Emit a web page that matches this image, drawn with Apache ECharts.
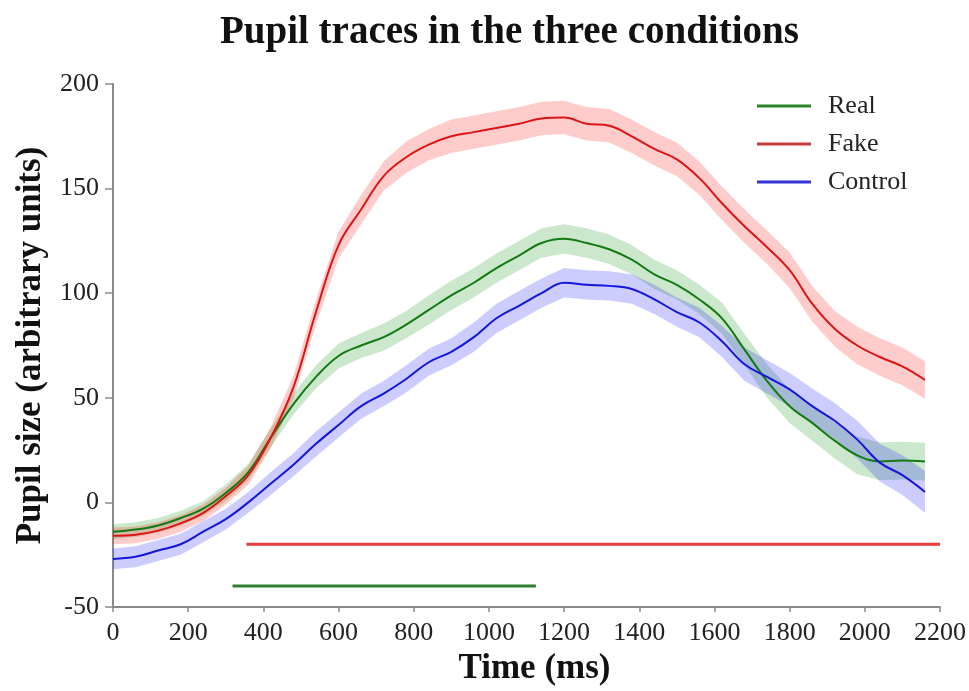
<!DOCTYPE html>
<html>
<head>
<meta charset="utf-8">
<script src="https://cdn.jsdelivr.net/npm/echarts@6/dist/echarts.min.js"></script>
<style>
html,body{margin:0;padding:0;background:#fff;}
#chart{width:969px;height:691px;}
</style>
</head>
<body>
<div id="chart"></div>
<script>
// ---- data ----
var times = [0,60,120,180,240,300,360,420,480,540,600,660,720,780,840,900,960,1020,1080,1140,1200,1260,1320,1380,1440,1500,1560,1620,1680,1740,1800,1860,1920,1980,2040,2100,2160];
var realMean = [-14,-13,-11,-7.5,-3,4.5,14.5,31,47,60,70,75,79,85,92,99,105,112,118,124,126,124,121,116,109,104,97,88,73,58,46,38,29.5,22.5,19.6,20,19.5];
var fakeMean = [-16,-15.5,-13.5,-10,-5,3,13,31,55,91,123,140,156,165,171,175,177,179,181,183.5,184,181,180,175,169,164,155,143,132,122,111,95,83,75,69.5,65,58.5];
var controlMean = [-27,-26,-23,-20,-14,-8,0,9,18,28,37,46,52,59,67,72,79,88,94,100,105,104,103.5,102,97,91,86,77,66,60,54,46,39,30,19,13,5];
var realSem = [3.5,3.5,3.5,3.5,3.5,4,4,4.5,5,5.5,6,6,6.5,6.5,7,7,7,7,7,7,7,7,7,7,7,7,7,7.5,7.5,8,8,8.5,8.5,9,9,9,9];
var fakeSem = [4,4,4,4,4,4,4.5,5,5.5,6,6.5,7,7,7.5,7.5,8,8,8,8,8,8,8,8,8,8,8,8,8,8,8,8.5,8.5,8.5,9,9,9,9];
var controlSem = [5,5,5,5,5,5,5,5.5,5.5,6,6,6,6,6.5,6.5,6.5,7,7,7,7,7,7,7,7,7,7,7,7.5,8,8,8,8.5,8.5,9,9,9.5,10];
// significance bars: [start ms, end ms, level]
var sigFake = [355, 2200, -20];
var sigReal = [318, 1125, -40];
var xTicks = {min: 0, max: 2200, step: 200};
var yTicks = {min: -50, max: 200, step: 50};

var serif = '"Liberation Serif","Times New Roman",Times,serif';

function pairs(arr){ return times.map(function(t,i){ return [t, arr[i]]; }); }

function band(name, m, s, fill){
  return {
    name: name, type:'custom', coordinateSystem:'cartesian2d', silent:true, z:1, clip:true,
    data: [[times[0], m[0]]],
    renderItem: function(params, api){
      var up = times.map(function(t,i){ return api.coord([t, m[i]+s[i]]); });
      var lo = times.map(function(t,i){ return api.coord([t, m[i]-s[i]]); }).reverse();
      return {type:'polygon', shape:{points: up.concat(lo)}, style:{fill: fill}};
    }
  };
}

var series = [];
series.push(band('realBand', realMean, realSem, 'rgba(0,140,0,0.2)'));
series.push(band('fakeBand', fakeMean, fakeSem, 'rgba(255,0,0,0.2)'));
series.push(band('controlBand', controlMean, controlSem, 'rgba(0,0,255,0.2)'));
series.push({name:'Real', type:'line', data:pairs(realMean), symbol:'none', smooth:0.4, lineStyle:{color:'#137a13', width:2}, itemStyle:{color:'#2a862a'}, z:3});
series.push({name:'Fake', type:'line', data:pairs(fakeMean), symbol:'none', smooth:0.4, lineStyle:{color:'#dd1414', width:2}, itemStyle:{color:'#c83a3a'}, z:3});
series.push({name:'Control', type:'line', data:pairs(controlMean), symbol:'none', smooth:0.4, lineStyle:{color:'#1515dd', width:2}, itemStyle:{color:'#3434d6'}, z:3});
series.push({name:'sigFake', type:'line', data:[[sigFake[0],sigFake[2]],[sigFake[1],sigFake[2]]], symbol:'none', silent:true,
  lineStyle:{color:'#e83a3a', width:3}, z:2});
series.push({name:'sigReal', type:'line', data:[[sigReal[0],sigReal[2]],[sigReal[1],sigReal[2]]], symbol:'none', silent:true,
  lineStyle:{color:'#2f7f2f', width:3}, z:2});

var chart = echarts.init(document.getElementById('chart'), null, {renderer:'canvas'});
chart.setOption({
  animation:false,
  backgroundColor:'#fff',
  title:{text:'Pupil traces in the three conditions', left:215, top:8,
    textStyle:{fontFamily:serif, fontWeight:'bold', fontSize:39, color:'#111'}},
  legend:{data:['Real','Fake','Control'], orient:'vertical', left:752, top:87, icon:'rect', itemWidth:54, itemHeight:3, itemGap:10,
    textStyle:{fontFamily:serif, fontSize:26, color:'#222', lineHeight:28, padding:[0,0,0,12]}},
  grid:{left:113, right:29, top:84, bottom:81},
  xAxis:{type:'value', min:xTicks.min, max:xTicks.max, interval:xTicks.step,
    name:'Time (ms)', nameLocation:'middle', nameGap:44,
    nameTextStyle:{fontFamily:serif, fontWeight:'bold', fontSize:35, color:'#111', padding:[0,0,0,16]},
    axisLine:{onZero:false, lineStyle:{color:'#8a8a8a', width:2}},
    axisTick:{show:true, length:5, lineStyle:{color:'#8a8a8a', width:1.5}},
    axisLabel:{fontFamily:serif, fontSize:26, color:'#222', margin:13, formatter:function(v){return String(v);}},
    splitLine:{show:false}},
  yAxis:{type:'value', min:yTicks.min, max:yTicks.max, interval:yTicks.step,
    name:'Pupil size (arbitrary units)', nameLocation:'middle', nameGap:65, nameRotate:90,
    nameTextStyle:{fontFamily:serif, fontWeight:'bold', fontSize:35, color:'#111'},
    axisLine:{show:true, onZero:false, lineStyle:{color:'#8a8a8a', width:2}},
    axisTick:{show:true, length:8, lineStyle:{color:'#8a8a8a', width:1.5}},
    axisLabel:{fontFamily:serif, fontSize:26, color:'#222', margin:14, formatter:function(v){return String(v);}},
    splitLine:{show:false}},
  series: series
});
</script>
</body>
</html>
